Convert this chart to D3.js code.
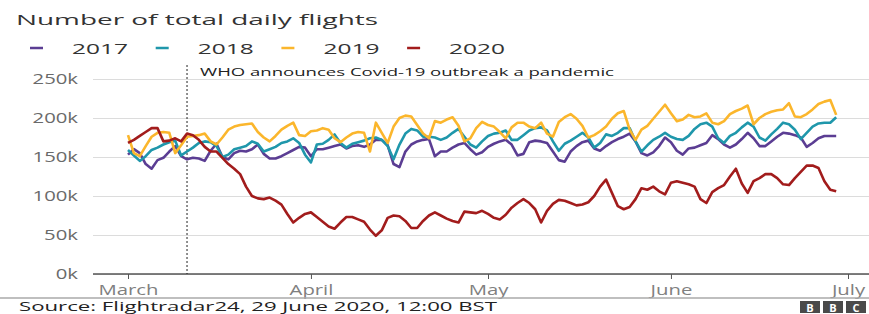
<!DOCTYPE html>
<html>
<head>
<meta charset="utf-8">
<script src="https://cdn.jsdelivr.net/npm/d3@7"></script>
<style>
  body { margin: 0; background: #fff; }
  text { font-family: "Open Sans", sans-serif; }
</style>
</head>
<body>
<svg id="chart" width="869" height="314"></svg>
<script>
// Daily flights (thousands), 1 March - 29 June, one value per day
const startDate = "2020-03-01";
const years = ["2017", "2018", "2019", "2020"];
const yTicks = [0, 50, 100, 150, 200, 250];

const flights2017 = [153,160,155,141,135,146,149,157,164,151,147,149,148,145,158,167,150,147,155,158,
  157,160,166,154,148,148,151,155,159,163,162,151,160,160,162,164,166,161,164,165,
  163,166,172,172,165,141,137,157,166,170,172,173,151,157,157,162,166,168,160,153,
  156,163,167,170,172,166,152,154,169,171,170,168,157,146,144,157,164,169,171,161,
  158,164,169,173,176,180,170,155,152,156,164,175,169,158,153,161,162,165,168,178,
  173,166,162,166,173,181,174,164,164,170,176,181,180,178,175,163,168,174,177,177,177];

const flights2018 = [159,152,145,151,159,162,166,169,171,152,157,162,168,170,169,164,150,153,160,162,
  164,170,167,157,160,163,168,170,174,168,153,143,166,167,172,179,168,162,167,169,
  171,174,175,172,164,147,166,180,186,184,176,176,175,172,175,181,186,176,166,162,
  170,177,180,181,184,172,172,178,184,187,188,184,170,158,167,171,176,181,175,162,
  168,179,177,181,187,187,170,157,165,172,176,181,176,173,172,177,186,192,194,189,
  174,168,177,181,188,194,189,175,171,179,186,194,192,185,173,181,189,193,194,194,201];

const flights2019 = [178,155,151,164,176,181,182,181,155,165,176,177,178,180,170,166,175,185,189,191,
  192,193,182,175,170,177,185,190,194,178,177,183,184,187,185,174,169,175,180,182,
  181,157,194,181,168,189,200,203,202,191,180,174,196,194,198,201,190,170,174,187,
  195,191,189,182,174,188,194,194,189,187,194,180,176,195,201,205,199,190,175,178,
  183,189,199,206,209,185,172,185,190,199,208,217,206,196,198,204,201,202,206,194,
  192,196,205,209,212,216,192,200,205,208,210,211,219,202,201,205,211,218,221,223,204];

const flights2020 = [168,172,177,182,187,187,170,171,174,170,180,178,172,163,157,157,149,141,135,128,
  112,100,97,96,98,94,89,77,66,72,77,79,73,67,61,58,66,73,73,70,
  67,57,49,56,72,75,74,68,59,59,68,75,79,75,71,68,66,80,79,78,
  81,77,72,70,76,85,91,96,91,83,66,81,90,95,94,91,88,89,92,100,
  112,121,104,87,83,86,96,110,108,112,106,102,117,119,117,115,112,96,91,105,
  110,114,125,135,116,104,119,123,128,128,123,115,114,123,131,139,139,136,119,108,106];

const series = [flights2017, flights2018, flights2019, flights2020];
const colors = ["#5b3d93", "#1f97ab", "#fbb62c", "#a21c1c"];

const whoDate = "2020-03-11";
const whoLabel = "WHO announces Covid-19 outbreak a pandemic";

const svg = d3.select("#chart");
const W = 869;

// fit a text element to a given width (the original art is stretched wide)
function fit(sel, w) {
  sel.attr("textLength", w).attr("lengthAdjust", "spacingAndGlyphs");
}
function stretch(sel, k) {
  sel.each(function() {
    const w = this.getComputedTextLength();
    d3.select(this).attr("textLength", w * k).attr("lengthAdjust", "spacingAndGlyphs");
  });
}

const start = d3.utcParse("%Y-%m-%d")(startDate);
const dates = flights2020.map((d, i) => d3.utcDay.offset(start, i));

const x = d3.scaleUtc()
  .domain([start, d3.utcParse("%Y-%m-%d")("2020-07-01")])
  .range([128, 848]);
const y = d3.scaleLinear().domain([0, 250]).range([274, 79]);

// Title
svg.append("text")
  .attr("x", 16).attr("y", 25)
  .attr("font-size", 15).attr("fill", "#333")
  .text("Number of total daily flights")
  .call(fit, 362);

// Legend
const legend = svg.append("g").selectAll("g").data(years).join("g")
  .attr("transform", (d, i) => `translate(${30 + i * 125.7},48)`);
legend.append("line")
  .attr("x1", 0).attr("x2", 13)
  .attr("stroke", (d, i) => colors[i]).attr("stroke-width", 2.5);
legend.append("text")
  .attr("x", 42).attr("y", 6)
  .attr("font-size", 15).attr("fill", "#333")
  .text(d => d)
  .call(fit, 56);

// Y axis + gridlines
const yAxis = svg.append("g")
  .attr("transform", "translate(93,0)")
  .call(d3.axisLeft(y).tickValues(yTicks).tickFormat(d => d + "k")
    .tickSize(-(W - 93)).tickPadding(15));
yAxis.select(".domain").remove();
yAxis.selectAll(".tick line").attr("stroke", "#dcdcdc");
yAxis.selectAll(".tick text")
  .attr("font-size", 14).attr("fill", "#6a6a6a")
  .attr("font-family", "Open Sans, sans-serif")
  .call(stretch, 1.45);

// X axis
const xAxis = svg.append("g")
  .attr("transform", "translate(0,274)")
  .call(d3.axisBottom(x).ticks(d3.utcMonth.every(1))
    .tickFormat(d3.utcFormat("%B")).tickSize(5).tickPadding(6));
xAxis.select(".domain").remove();
xAxis.selectAll(".tick line").attr("stroke", "#555");
xAxis.selectAll(".tick text")
  .attr("font-size", 14).attr("fill", "#808080")
  .attr("font-family", "Open Sans, sans-serif")
  .call(stretch, 1.45);

svg.append("line")
  .attr("x1", 93).attr("x2", W)
  .attr("y1", 274).attr("y2", 274)
  .attr("stroke", "#555").attr("stroke-width", 1.5);

// WHO annotation
const xw = x(d3.utcParse("%Y-%m-%d")(whoDate));
svg.append("line")
  .attr("x1", xw).attr("x2", xw)
  .attr("y1", 65).attr("y2", 274)
  .attr("stroke", "#222").attr("stroke-width", 1)
  .attr("stroke-dasharray", "2,2");
svg.append("text")
  .attr("x", xw + 13).attr("y", 76)
  .attr("font-size", 11.5).attr("fill", "#222")
  .text(whoLabel)
  .call(fit, 414);

// Lines
const line = d3.line()
  .x((d, i) => x(dates[i]))
  .y(d => y(d));

svg.append("g").selectAll("path").data(series).join("path")
  .attr("d", line)
  .attr("fill", "none")
  .attr("stroke", (d, i) => colors[i])
  .attr("stroke-width", 2.6)
  .attr("stroke-linejoin", "round");

// Footer
svg.append("line")
  .attr("x1", 0).attr("x2", W)
  .attr("y1", 298).attr("y2", 298)
  .attr("stroke", "#aaa").attr("stroke-width", 1.5);
svg.append("text")
  .attr("x", 19).attr("y", 311)
  .attr("font-size", 13).attr("fill", "#222")
  .text("Source: Flightradar24, 29 June 2020, 12:00 BST")
  .call(fit, 478);

const bbc = svg.append("g").selectAll("g").data(["B", "B", "C"]).join("g")
  .attr("transform", (d, i) => `translate(${800 + i * 23},301)`);
bbc.append("rect").attr("width", 20).attr("height", 12).attr("fill", "#4a4a4a");
bbc.append("text")
  .attr("x", 10).attr("y", 10.5)
  .attr("text-anchor", "middle")
  .attr("font-size", 11).attr("font-weight", "bold").attr("fill", "#fff")
  .text(d => d);
</script>
</body>
</html>
